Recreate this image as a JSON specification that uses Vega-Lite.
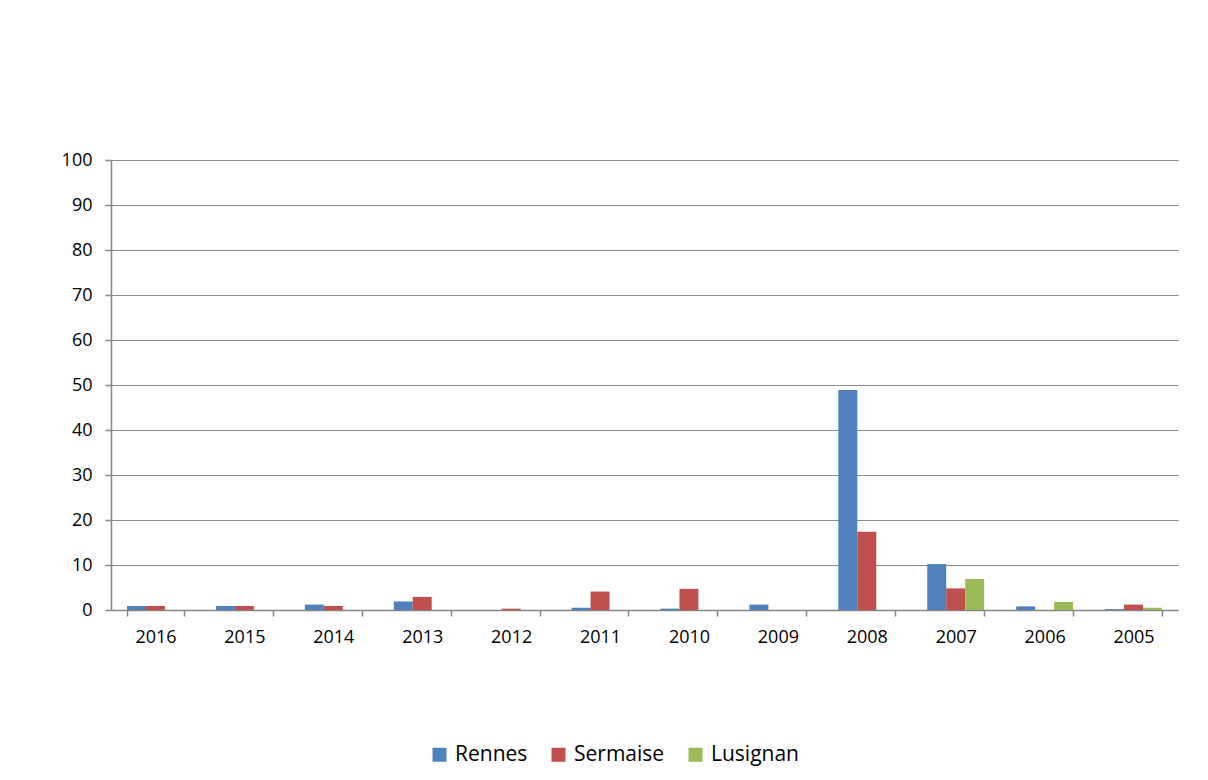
{
  "$schema": "https://vega.github.io/schema/vega-lite/v6.json",
  "width": 1067,
  "height": 450,
  "autosize": {"type": "none"},
  "padding": {"left": 111, "top": 160, "right": 30, "bottom": 170},
  "background": "white",
  "config": {
    "view": {"stroke": null},
    "font": "Open Sans",
    "axis": {"labelFont": "Open Sans", "labelColor": "#000000", "labelFontSize": 18, "domainColor": "#868686", "domainWidth": 1.5, "tickColor": "#868686", "tickWidth": 1.5, "gridColor": "#8a8a8a", "gridWidth": 1.2}
  },
  "data": {
    "values": [
      {"year": "2016", "site": "Rennes", "v": 0.9},
      {"year": "2016", "site": "Sermaise", "v": 0.9},
      {"year": "2015", "site": "Rennes", "v": 0.9},
      {"year": "2015", "site": "Sermaise", "v": 0.9},
      {"year": "2014", "site": "Rennes", "v": 1.2},
      {"year": "2014", "site": "Sermaise", "v": 0.9},
      {"year": "2013", "site": "Rennes", "v": 1.9},
      {"year": "2013", "site": "Sermaise", "v": 2.9},
      {"year": "2012", "site": "Sermaise", "v": 0.3},
      {"year": "2011", "site": "Rennes", "v": 0.5},
      {"year": "2011", "site": "Sermaise", "v": 4.1},
      {"year": "2010", "site": "Rennes", "v": 0.3},
      {"year": "2010", "site": "Sermaise", "v": 4.7},
      {"year": "2009", "site": "Rennes", "v": 1.2},
      {"year": "2008", "site": "Rennes", "v": 48.9},
      {"year": "2008", "site": "Sermaise", "v": 17.4},
      {"year": "2007", "site": "Rennes", "v": 10.2},
      {"year": "2007", "site": "Sermaise", "v": 4.8},
      {"year": "2007", "site": "Lusignan", "v": 6.9},
      {"year": "2006", "site": "Rennes", "v": 0.8},
      {"year": "2006", "site": "Lusignan", "v": 1.8},
      {"year": "2005", "site": "Rennes", "v": 0.2},
      {"year": "2005", "site": "Sermaise", "v": 1.2},
      {"year": "2005", "site": "Lusignan", "v": 0.5}
    ]
  },
  "mark": {"type": "bar"},
  "encoding": {
    "x": {
      "field": "year", "type": "nominal",
      "sort": ["2016","2015","2014","2013","2012","2011","2010","2009","2008","2007","2006","2005"],
      "scale": {"paddingInner": 0.36, "paddingOuter": 0.18},
      "axis": {"title": null, "labelAngle": 0, "tickBand": "extent", "tickSize": 6, "labelPadding": 12}
    },
    "xOffset": {
      "field": "site", "type": "nominal",
      "sort": ["Rennes", "Sermaise", "Lusignan"],
      "scale": {"domain": ["Rennes", "Sermaise", "Lusignan"]}
    },
    "y": {
      "field": "v", "type": "quantitative",
      "scale": {"domain": [0, 100], "nice": false},
      "axis": {"title": null, "values": [0,10,20,30,40,50,60,70,80,90,100], "tickSize": 6, "labelPadding": 13, "grid": true}
    },
    "color": {
      "field": "site", "type": "nominal",
      "scale": {"domain": ["Rennes", "Sermaise", "Lusignan"], "range": ["#4F81BD", "#C0504D", "#9BBB59"]},
      "legend": {
        "title": null, "orient": "none", "direction": "horizontal",
        "legendX": 318, "legendY": 584,
        "symbolType": "square", "symbolSize": 196, "symbolStrokeWidth": 0,
        "labelFontSize": 21, "labelFont": "Open Sans", "labelColor": "#000000",
        "labelOffset": 5, "columnPadding": 20
      }
    }
  }
}
